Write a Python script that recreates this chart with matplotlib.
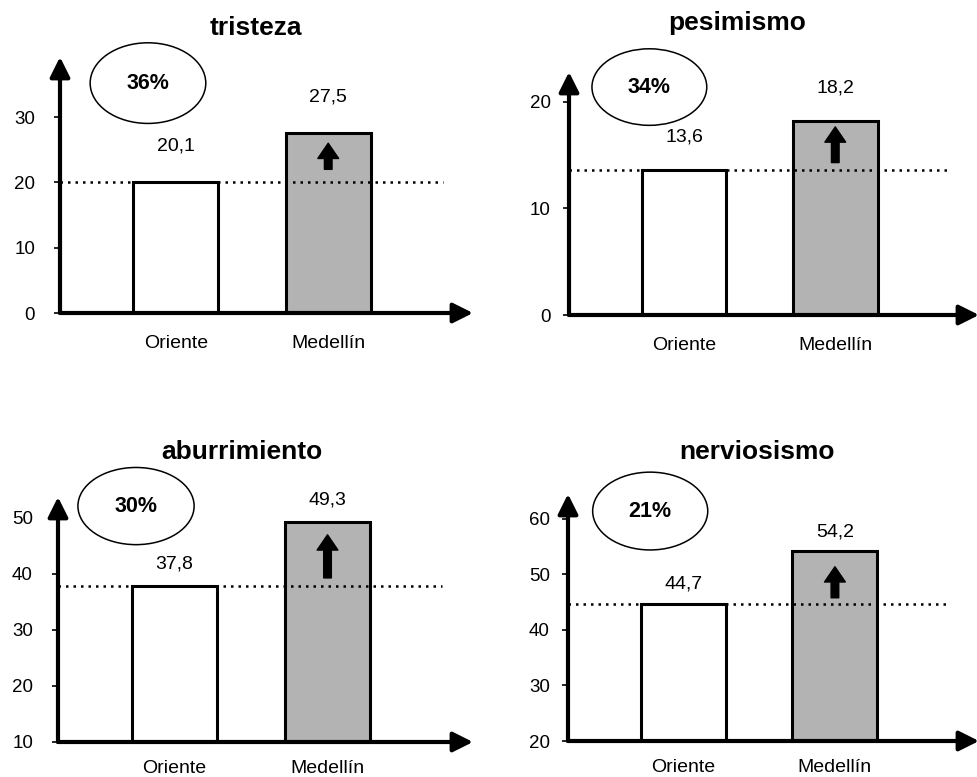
import matplotlib
matplotlib.use("Agg")
import matplotlib.pyplot as plt
from matplotlib.patches import Ellipse

plt.rcParams['font.family'] = ['Liberation Sans', 'DejaVu Sans']

# Síntomas comparados entre Oriente y Medellín
titles = ["tristeza", "pesimismo", "aburrimiento", "nerviosismo"]
zones = ["Oriente", "Medellín"]
oriente = [20.1, 13.6, 37.8, 44.7]
medellin = [27.5, 18.2, 49.3, 54.2]
increase = ["36%", "34%", "30%", "21%"]
yticks = [[0, 10, 20, 30], [0, 10, 20], [10, 20, 30, 40, 50], [20, 30, 40, 50, 60]]
ylims = [(0, 39.2), (0, 22.8), (10, 53.75), (20, 64.5)]

W, H = 977, 777
fig = plt.figure(figsize=(W / 100, H / 100), dpi=100)

# panel boxes in pixels: left, top, right, bottom
boxes = [(60, 57, 473, 313), (569, 72, 979, 315), (58, 497, 473, 742), (568, 494, 979, 741)]
title_pos = [(256, 28), (737, 23), (242, 452), (757, 452)]
ell_pos = [(0.213, 0.898), (0.196, 0.938), (0.188, 0.963), (0.200, 0.931)]
label_off = [26, 24, 16, 14]
tick_pad = [14, 9, 14, 9]
cat_pad = [16, 16, 13, 13]
arrow_span = [(22.0, 26.0), (14.3, 17.65), (39.3, 47.0), (45.8, 51.4)]


def fmt(v):
    return f"{v:.1f}".replace(".", ",")


for i in range(4):
    l, t, r, b = boxes[i]
    ax = fig.add_axes([l / W, (H - b) / H, (r - l) / W, (b - t) / H])
    ax.set_xlim(-0.76, 1.95)
    ax.set_ylim(*ylims[i])
    for s in ax.spines.values():
        s.set_visible(False)

    # bars
    ax.bar(0, oriente[i], width=0.56, color="white", edgecolor="black", lw=2.2, zorder=2)
    ax.bar(1, medellin[i], width=0.56, color="#b3b3b3", edgecolor="black", lw=2.2, zorder=2)

    # reference line at Oriente level
    ax.plot([-0.76, 1.75], [oriente[i], oriente[i]], color="black", lw=1.8,
            linestyle=(0, (1, 2)), zorder=3)

    # value labels
    for x, v in zip([0, 1], [oriente[i], medellin[i]]):
        ax.annotate(fmt(v), xy=(x, v), xytext=(0, label_off[i]), textcoords="offset points",
                    ha="center", va="center", fontsize=14)

    # upward arrow inside Medellín bar
    lo, hi = arrow_span[i]
    ax.annotate("", xy=(1, hi), xytext=(1, lo),
                arrowprops=dict(arrowstyle="simple,head_length=1.1,head_width=1.5,tail_width=0.55",
                                color="black", shrinkA=0, shrinkB=0, mutation_scale=10), zorder=4)

    # axis lines with arrow heads
    for end in [(1, 0), (0, 1)]:
        ax.annotate("", xy=end, xytext=(0, 0), xycoords="axes fraction",
                    arrowprops=dict(arrowstyle="-|>,head_length=0.6,head_width=0.3",
                                    color="black", lw=3, shrinkA=0, shrinkB=0,
                                    mutation_scale=20),
                    annotation_clip=False, zorder=5)

    ax.set_yticks(yticks[i])
    ax.tick_params(axis="y", length=4, width=1.2, pad=tick_pad[i], labelsize=13.5)
    ax.set_xticks([0, 1])
    ax.set_xticklabels(zones)
    ax.tick_params(axis="x", length=0, pad=cat_pad[i], labelsize=14)

    # percentage bubble
    cx, cy = ell_pos[i]
    ax.add_patch(Ellipse((cx, cy), 0.28, 0.315, transform=ax.transAxes, fill=False,
                         lw=1.1, edgecolor="black", clip_on=False))
    ax.text(cx, cy, increase[i], transform=ax.transAxes, ha="center", va="center",
            fontsize=15.5, fontweight="bold")

    tx, ty = title_pos[i]
    fig.text(tx / W, 1 - ty / H, titles[i], ha="center", va="center",
             fontsize=19, fontweight="bold")

fig.savefig("out.png", dpi=100)
